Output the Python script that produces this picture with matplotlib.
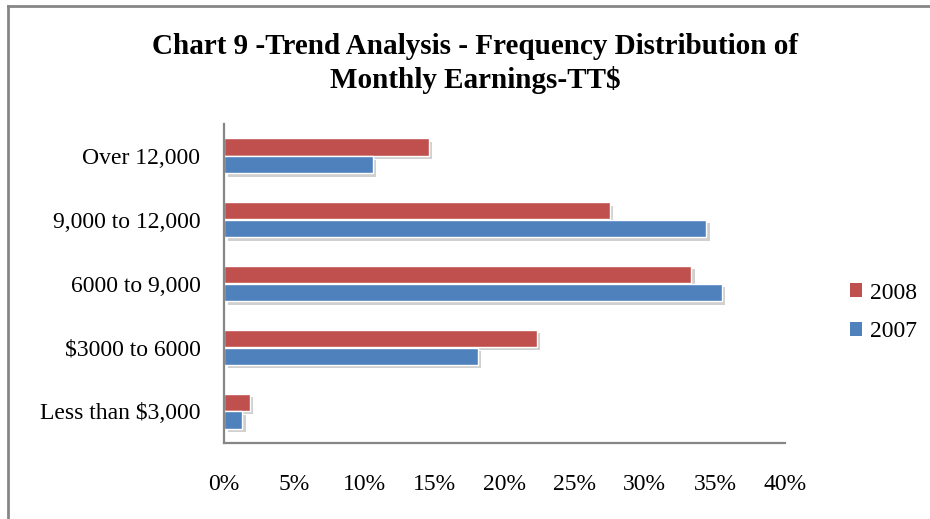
import matplotlib
matplotlib.use("Agg")
import matplotlib.pyplot as plt
import matplotlib.patheffects as pe
from matplotlib.lines import Line2D
import numpy as np

plt.rcParams['font.family'] = ['Liberation Serif', 'DejaVu Serif']

categories = ["Less than $3,000", "$3000 to 6000", "6000 to 9,000",
              "9,000 to 12,000", "Over 12,000"]
vals_2008 = [1.85, 22.3, 33.3, 27.5, 14.6]
vals_2007 = [1.3, 18.1, 35.5, 34.4, 10.6]
x_ticks = [0, 5, 10, 15, 20, 25, 30, 35, 40]

red = '#C0504D'
blue = '#4F81BD'
grey = '#868686'

fig = plt.figure(figsize=(9.3, 5.19), dpi=100)
ax = fig.add_axes([0.2409, 0.1464, 0.6032, 0.6147])

y = np.arange(len(categories))
h = 0.27
shadow = [pe.SimplePatchShadow(offset=(2.5, -2.5), shadow_rgbFace='#666666', alpha=0.3),
          pe.Normal()]
b08 = ax.barh(y + 0.14, vals_2008, height=h, color=red, edgecolor='white',
              linewidth=1.0, label='2008')
b07 = ax.barh(y - 0.14, vals_2007, height=h, color=blue, edgecolor='white',
              linewidth=1.0, label='2007')
for b in list(b08) + list(b07):
    b.set_path_effects(shadow)

ax.set_xlim(0, 40)
ax.set_ylim(-0.5, len(categories) - 0.5)
ax.set_xticks(x_ticks)
ax.set_xticklabels(['%d%%' % t for t in x_ticks])
ax.set_yticks(y)
ax.set_yticklabels(categories)
ax.tick_params(axis='both', length=0, labelsize=17)
ax.tick_params(axis='x', pad=22)
ax.tick_params(axis='y', pad=17)
for s in ['top', 'right']:
    ax.spines[s].set_visible(False)
for s in ['left', 'bottom']:
    ax.spines[s].set_color(grey)
    ax.spines[s].set_linewidth(1.6)

leg = fig.legend(handles=[b08, b07], labels=['2008', '2007'],
                 loc='center left', bbox_to_anchor=(0.891, 0.398),
                 frameon=False, fontsize=17, handlelength=0.5, handleheight=0.5,
                 handletextpad=0.35, labelspacing=0.75)
for p in leg.get_patches():
    p.set_path_effects([])
    p.set_edgecolor('none')

fig.text(0.511, 0.878, "Chart 9 -Trend Analysis - Frequency Distribution of\nMonthly Earnings-TT$",
         ha='center', va='center', fontsize=21, fontweight='bold', linespacing=1.3)

# outer frame (left and top edges only)
fig.add_artist(Line2D([0.009, 0.009], [0, 0.989], transform=fig.transFigure,
                      color=grey, linewidth=2))
fig.add_artist(Line2D([0.009, 1.0], [0.989, 0.989], transform=fig.transFigure,
                      color=grey, linewidth=2))

fig.savefig('out.png', dpi=100, facecolor='white')
